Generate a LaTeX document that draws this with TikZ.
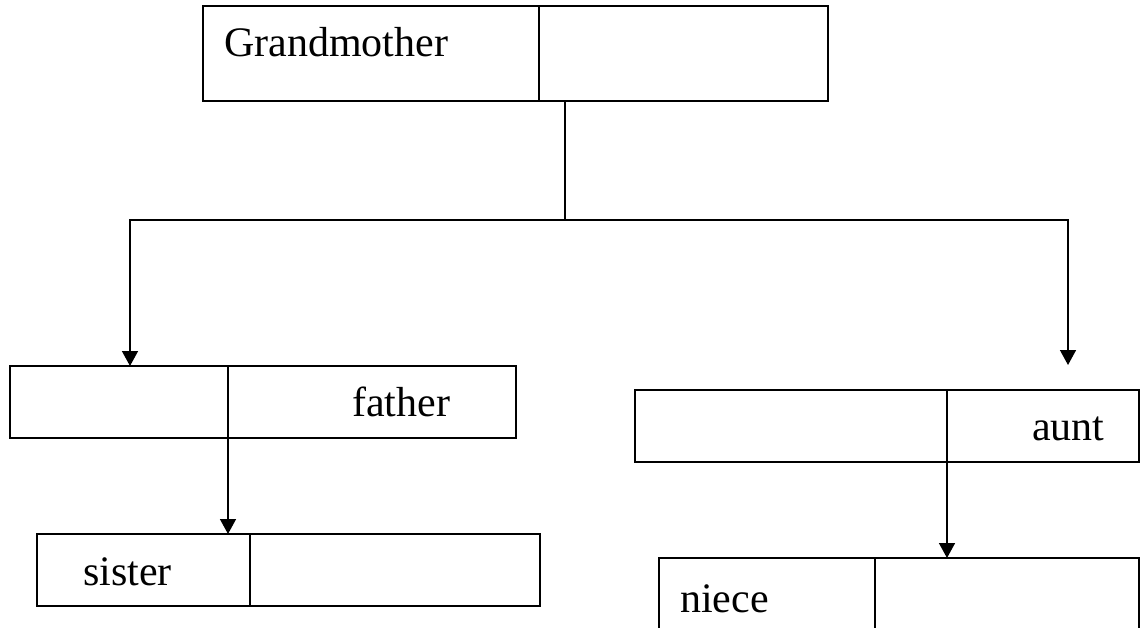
\documentclass[tikz,border=0pt]{standalone}
\usepackage{fontspec}
\setmainfont{Liberation Serif}
\usetikzlibrary{arrows.meta,calc}
\begin{document}
\begin{tikzpicture}[x=1pt,y=-1pt,
  cell/.style={draw,line width=1.5pt,rectangle,anchor=north west,inner sep=0pt,outer sep=0pt},
  celltext/.style={anchor=base west,inner sep=0pt,font=\fontsize{42pt}{50pt}\selectfont},
  link/.style={line width=1.5pt},
  arrowlink/.style={line width=1.5pt,-{Triangle[length=15pt,width=16pt]}}]
\useasboundingbox (0,0) rectangle (1143,627);
\clip (0,0) rectangle (1143,627);

% Grandmother record
\node[cell,minimum width=336pt,minimum height=95pt] (gmL) at (203,6) {};
\node[cell,minimum width=289pt,minimum height=95pt] (gmR) at (539,6) {};
\node[celltext] (gmT) at (224,56) {Grandmother};

% father record
\node[cell,minimum width=218pt,minimum height=72pt] (fL) at (10,366) {};
\node[cell,minimum width=288pt,minimum height=72pt] (fR) at (228,366) {};
\node[celltext] (fT) at (352,416) {father};

% sister record
\node[cell,minimum width=213pt,minimum height=72pt] (sL) at (37,534) {};
\node[cell,minimum width=290pt,minimum height=72pt] (sR) at (250,534) {};
\node[celltext] (sT) at (83,585) {sister};

% aunt record
\node[cell,minimum width=312pt,minimum height=72pt] (aL) at (635,390) {};
\node[cell,minimum width=192pt,minimum height=72pt] (aR) at (947,390) {};
\node[celltext] (aT) at (1032,440) {aunt};

% niece record (runs past the lower edge)
\node[cell,minimum width=216pt,minimum height=100pt] (nL) at (659,558) {};
\node[cell,minimum width=264pt,minimum height=100pt] (nR) at (875,558) {};
\node[celltext] (nT) at (680,612) {niece};

% branching connectors
\coordinate (top) at ([xshift=26pt]gmR.south west);
\coordinate (j) at (top |- 0,220);
\coordinate (aEnd) at (1068,365);
\draw[link] (top) -- (j);
\draw[arrowlink] (j) -| ([xshift=120pt]fL.north west);
\draw[arrowlink] (j) -| (aEnd);
\draw[arrowlink] (fL.south east) -- (fL.south east |- sL.north);
\draw[arrowlink] (aL.south east) -- (aL.south east |- nR.north);
\end{tikzpicture}
\end{document}
